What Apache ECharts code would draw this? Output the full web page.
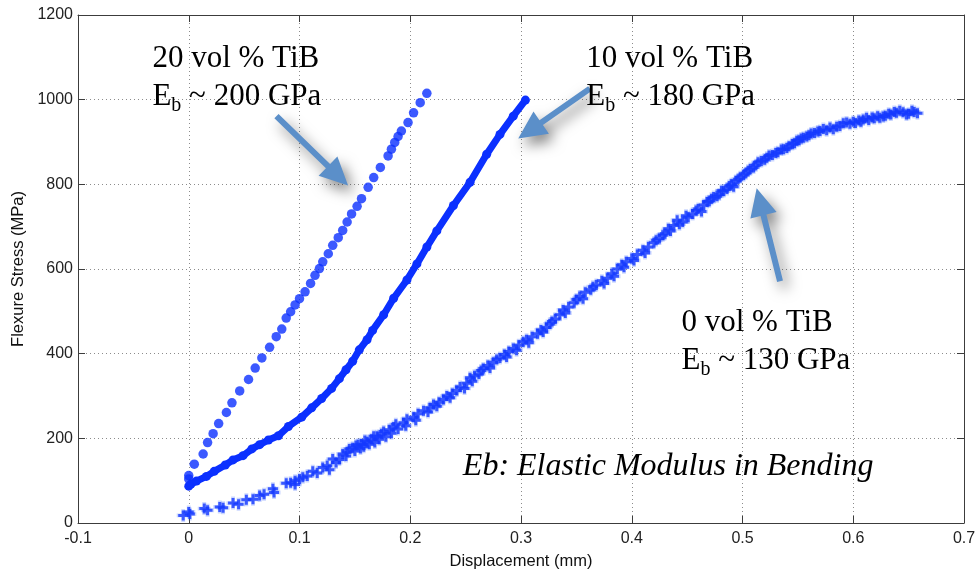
<!DOCTYPE html>
<html>
<head>
<meta charset="utf-8">
<script src="https://cdn.jsdelivr.net/npm/echarts@6/dist/echarts.min.js"></script>
<style>
  html, body { margin: 0; padding: 0; background: #ffffff; }
  #chart { width: 980px; height: 575px; }
</style>
</head>
<body>
<div id="chart"></div>
<script>
// Three-point bending: flexure stress vs. displacement for Ti with 0, 10 and 20 vol % TiB

const xTickLabels = ['-0.1', '0', '0.1', '0.2', '0.3', '0.4', '0.5', '0.6', '0.7'];
const yTickLabels = ['0', '200', '400', '600', '800', '1000', '1200'];

// [displacement (mm), flexure stress (MPa)]
const tib20 = [
  [0, 104], [0, 112], [0.005, 139], [0.013, 163], [0.017, 190], [0.022, 211], [0.027, 235],
  [0.034, 261], [0.039, 284], [0.046, 312], [0.054, 339], [0.060, 366], [0.066, 390],
  [0.073, 415], [0.079, 440], [0.084, 458], [0.088, 484], [0.092, 499], [0.096, 515],
  [0.100, 530], [0.105, 546], [0.110, 566], [0.114, 585], [0.118, 601], [0.121, 617],
  [0.126, 636], [0.130, 656], [0.135, 674], [0.139, 691], [0.143, 711], [0.147, 730],
  [0.152, 748], [0.156, 766], [0.162, 793], [0.167, 816], [0.173, 840], [0.180, 867],
  [0.183, 883], [0.186, 899], [0.189, 913], [0.192, 926], [0.198, 946], [0.203, 969],
  [0.209, 993], [0.215, 1015]
];

const tib10 = [
  [0, 87], [0.002, 92], [0.007, 99], [0.016, 110], [0.023, 122], [0.033, 137], [0.040, 149],
  [0.049, 159], [0.057, 175], [0.064, 185], [0.072, 196], [0.081, 206], [0.090, 228],
  [0.102, 250], [0.111, 272], [0.120, 294], [0.129, 318], [0.136, 341], [0.142, 362],
  [0.148, 382], [0.154, 409], [0.161, 433], [0.166, 455], [0.176, 492], [0.185, 531],
  [0.197, 574], [0.206, 612], [0.215, 652], [0.224, 690], [0.239, 750], [0.254, 805],
  [0.269, 871], [0.281, 918], [0.293, 961], [0.304, 999]
];

const tib0 = [
  [-0.005, 18], [0, 26], [0.001, 21], [0.014, 34], [0.017, 30], [0.028, 38], [0.031, 36],
  [0.040, 47], [0.045, 44], [0.052, 55], [0.058, 56], [0.064, 65], [0.068, 68], [0.076, 81],
  [0.077, 72], [0.088, 94], [0.092, 95], [0.096, 91], [0.096, 100], [0.100, 104], [0.103, 108],
  [0.107, 111], [0.112, 122], [0.116, 118], [0.121, 131], [0.125, 135], [0.127, 126],
  [0.130, 151], [0.133, 143], [0.136, 150], [0.139, 163], [0.142, 158], [0.143, 168],
  [0.145, 175], [0.148, 178], [0.150, 170], [0.151, 183], [0.153, 185], [0.155, 176],
  [0.156, 186], [0.158, 180], [0.159, 195], [0.161, 192], [0.163, 186], [0.165, 198],
  [0.167, 205], [0.168, 190], [0.170, 205], [0.172, 198], [0.174, 211], [0.176, 216],
  [0.178, 204], [0.181, 220], [0.183, 212], [0.185, 227], [0.187, 233], [0.189, 222],
  [0.194, 237], [0.196, 230], [0.197, 245], [0.203, 250], [0.205, 243], [0.207, 258],
  [0.212, 265], [0.216, 262], [0.218, 272], [0.221, 280], [0.224, 276], [0.226, 285],
  [0.230, 292], [0.233, 300], [0.236, 296], [0.238, 306], [0.242, 313], [0.245, 321],
  [0.249, 318], [0.251, 330], [0.254, 343], [0.256, 335], [0.258, 348], [0.262, 352],
  [0.264, 360], [0.266, 365], [0.270, 372], [0.272, 366], [0.275, 380], [0.278, 386],
  [0.281, 390], [0.285, 398], [0.287, 392], [0.289, 405], [0.293, 412], [0.296, 408],
  [0.298, 420], [0.302, 428], [0.305, 433], [0.307, 426], [0.310, 440], [0.315, 447],
  [0.318, 456], [0.320, 451], [0.323, 462], [0.326, 470], [0.328, 476], [0.331, 482],
  [0.335, 492], [0.338, 503], [0.340, 496], [0.343, 510], [0.348, 520], [0.350, 528],
  [0.353, 535], [0.356, 530], [0.358, 545], [0.363, 551], [0.365, 558], [0.368, 562],
  [0.373, 572], [0.375, 566], [0.378, 578], [0.382, 589], [0.384, 583], [0.387, 600],
  [0.391, 610], [0.393, 604], [0.395, 617], [0.400, 625], [0.402, 620], [0.405, 634],
  [0.410, 644], [0.412, 638], [0.415, 652], [0.420, 662], [0.422, 668], [0.425, 672],
  [0.428, 680], [0.430, 683], [0.433, 695], [0.435, 690], [0.438, 703], [0.441, 715],
  [0.443, 706], [0.446, 711], [0.449, 726], [0.451, 722], [0.455, 730], [0.458, 738],
  [0.460, 742], [0.463, 736], [0.465, 751], [0.468, 758], [0.470, 760], [0.472, 766],
  [0.474, 770], [0.477, 772], [0.479, 776], [0.481, 785], [0.483, 784], [0.486, 789],
  [0.488, 796], [0.490, 800], [0.492, 794], [0.494, 808], [0.496, 812], [0.498, 817],
  [0.501, 822], [0.503, 826], [0.505, 832], [0.507, 836], [0.510, 840], [0.512, 845],
  [0.514, 852], [0.517, 855], [0.520, 858], [0.522, 863], [0.524, 868], [0.527, 869],
  [0.530, 874], [0.532, 876], [0.535, 882], [0.537, 883], [0.540, 886], [0.542, 890],
  [0.545, 895], [0.547, 897], [0.549, 903], [0.551, 904], [0.553, 908], [0.555, 910],
  [0.558, 913], [0.560, 916], [0.562, 920], [0.565, 921], [0.568, 925], [0.570, 926],
  [0.573, 931], [0.576, 928], [0.579, 934], [0.582, 930], [0.585, 936], [0.588, 938],
  [0.591, 944], [0.594, 946], [0.597, 943], [0.600, 948], [0.602, 945], [0.605, 951],
  [0.607, 948], [0.609, 953], [0.612, 957], [0.614, 952], [0.617, 958], [0.619, 956],
  [0.622, 961], [0.624, 957], [0.627, 960], [0.629, 962], [0.632, 967], [0.634, 965],
  [0.637, 971], [0.639, 969], [0.642, 974], [0.645, 970], [0.648, 965], [0.650, 967],
  [0.653, 974], [0.655, 971], [0.658, 968]
];

// Callout texts and arrows, anchored in data coordinates
const calloutLines = [
  { title: '20 vol % TiB', modulus: ' ~ 200 GPa', at: [-0.0328, 1142] },
  { title: '10 vol % TiB', modulus: ' ~ 180 GPa', at: [0.3589, 1142] },
  { title: '0 vol % TiB',  modulus: ' ~ 130 GPa', at: [0.4449, 517] }
];
const calloutArrows = [
  { from: [0.0792, 961], to: [0.1439, 797] },
  { from: [0.3622, 1026], to: [0.2975, 908] },
  { from: [0.5339, 571], to: [0.5128, 791] }
];
const noteText = 'Eb: Elastic Modulus in Bending';
const noteAt = [0.2475, 170];

const blue = '#0b30ff';
const axisColor = '#3c3c3c';
const sansFont = '"Liberation Sans", Arial, Helvetica, sans-serif';
const serifFont = '"Liberation Serif", "Times New Roman", Times, serif';

const chart = echarts.init(document.getElementById('chart'), null, { renderer: 'canvas' });

function baseX(extra) {
  return Object.assign({
    type: 'value', min: -0.1, max: 0.7, interval: 0.1,
    axisLine: { show: true, onZero: false, lineStyle: { color: axisColor, width: 1 } },
    axisTick: { show: true, inside: true, length: 7, lineStyle: { color: axisColor } },
    splitLine: { show: false }
  }, extra);
}
function baseY(extra) {
  return Object.assign({
    type: 'value', min: 0, max: 1200, interval: 200,
    axisLine: { show: true, onZero: false, lineStyle: { color: axisColor, width: 1 } },
    axisTick: { show: true, inside: true, length: 7, lineStyle: { color: axisColor } },
    splitLine: { show: false }
  }, extra);
}

// plus-shaped marker used by the 0 vol % data
const plusPath = 'path://M3.5,0 h3 v3.5 h3.5 v3 h-3.5 v3.5 h-3 v-3.5 h-3.5 v-3 h3.5 z';

chart.setOption({
  backgroundColor: '#ffffff',
  animation: false,
  grid: { left: 78, right: 16, top: 15, bottom: 49, containLabel: false },
  xAxis: [
    baseX({
      position: 'bottom',
      name: 'Displacement (mm)', nameLocation: 'middle', nameGap: 30,
      nameTextStyle: { fontFamily: sansFont, fontSize: 16.5, color: '#111' },
      axisLabel: {
        fontFamily: sansFont, fontSize: 16, color: '#222', margin: 8,
        formatter: v => xTickLabels[Math.round((v + 0.1) * 10)]
      },
      splitLine: { show: true, lineStyle: { color: '#8c8c8c', type: [1, 3], width: 1 } }
    }),
    baseX({ position: 'top', axisLabel: { show: false } })
  ],
  yAxis: [
    baseY({
      position: 'left',
      name: 'Flexure Stress (MPa)', nameLocation: 'middle', nameGap: 47,
      nameTextStyle: { fontFamily: sansFont, fontSize: 16.5, color: '#111' },
      axisLabel: {
        fontFamily: sansFont, fontSize: 16, color: '#222', margin: 5,
        formatter: v => yTickLabels[Math.round(v / 200)]
      },
      splitLine: { show: true, lineStyle: { color: '#8c8c8c', type: [1, 3], width: 1 } }
    }),
    baseY({ position: 'right', axisLabel: { show: false } })
  ],
  series: [
    {
      // soft fringe around the plus markers
      name: '0 vol % TiB halo', type: 'scatter', data: tib0,
      symbol: plusPath, symbolSize: 13, silent: true,
      itemStyle: { color: 'rgba(70,110,255,0.35)' }
    },
    {
      name: '0 vol % TiB', type: 'scatter', data: tib0,
      symbol: plusPath, symbolSize: 10,
      itemStyle: { color: '#1438ff' }
    },
    {
      name: '10 vol % TiB', type: 'line', data: tib10,
      symbol: 'circle', symbolSize: 9, showAllSymbol: true,
      lineStyle: { color: blue, width: 7 },
      itemStyle: { color: blue }
    },
    {
      name: '20 vol % TiB', type: 'scatter', data: tib20,
      symbol: 'circle', symbolSize: 9.5,
      itemStyle: { color: blue }
    }
  ]
});

function px(p) { return chart.convertToPixel({ gridIndex: 0 }, p); }

function arrowPoints(a, b, shaftW, headL, headW) {
  const dx = b[0] - a[0], dy = b[1] - a[1];
  const len = Math.hypot(dx, dy);
  const ux = dx / len, uy = dy / len;
  const nx = -uy, ny = ux;
  const bx = b[0] - ux * headL, by = b[1] - uy * headL;
  return [
    [a[0] + nx * shaftW / 2, a[1] + ny * shaftW / 2],
    [bx + nx * shaftW / 2, by + ny * shaftW / 2],
    [bx + nx * headW / 2, by + ny * headW / 2],
    [b[0], b[1]],
    [bx - nx * headW / 2, by - ny * headW / 2],
    [bx - nx * shaftW / 2, by - ny * shaftW / 2],
    [a[0] - nx * shaftW / 2, a[1] - ny * shaftW / 2]
  ];
}

const graphics = [];
calloutArrows.forEach(ar => {
  graphics.push({
    type: 'polygon',
    shape: { points: arrowPoints(px(ar.from), px(ar.to), 6, 28, 27) },
    style: {
      fill: '#5b8fc9',
      shadowBlur: 14, shadowColor: 'rgba(0,0,0,0.5)',
      shadowOffsetX: 5, shadowOffsetY: 7
    },
    z: 10
  });
});
calloutLines.forEach(c => {
  const p = px(c.at);
  graphics.push({
    type: 'text', x: p[0], y: p[1], z: 11,
    style: {
      text: '{m|' + c.title + '}\n{m|E}{s|b}{m|' + c.modulus + '}',
      fill: '#000',
      verticalAlign: 'top',
      rich: {
        m: { fontFamily: serifFont, fontSize: 31, lineHeight: 38, fill: '#000' },
        s: { fontFamily: serifFont, fontSize: 20, lineHeight: 24, verticalAlign: 'bottom', fill: '#000' }
      }
    }
  });
});
const np = px(noteAt);
graphics.push({
  type: 'text', x: np[0], y: np[1], z: 11,
  style: {
    text: noteText, fill: '#000',
    font: 'italic 32px ' + serifFont,
    verticalAlign: 'top'
  }
});

chart.setOption({ graphic: graphics });
</script>
</body>
</html>
